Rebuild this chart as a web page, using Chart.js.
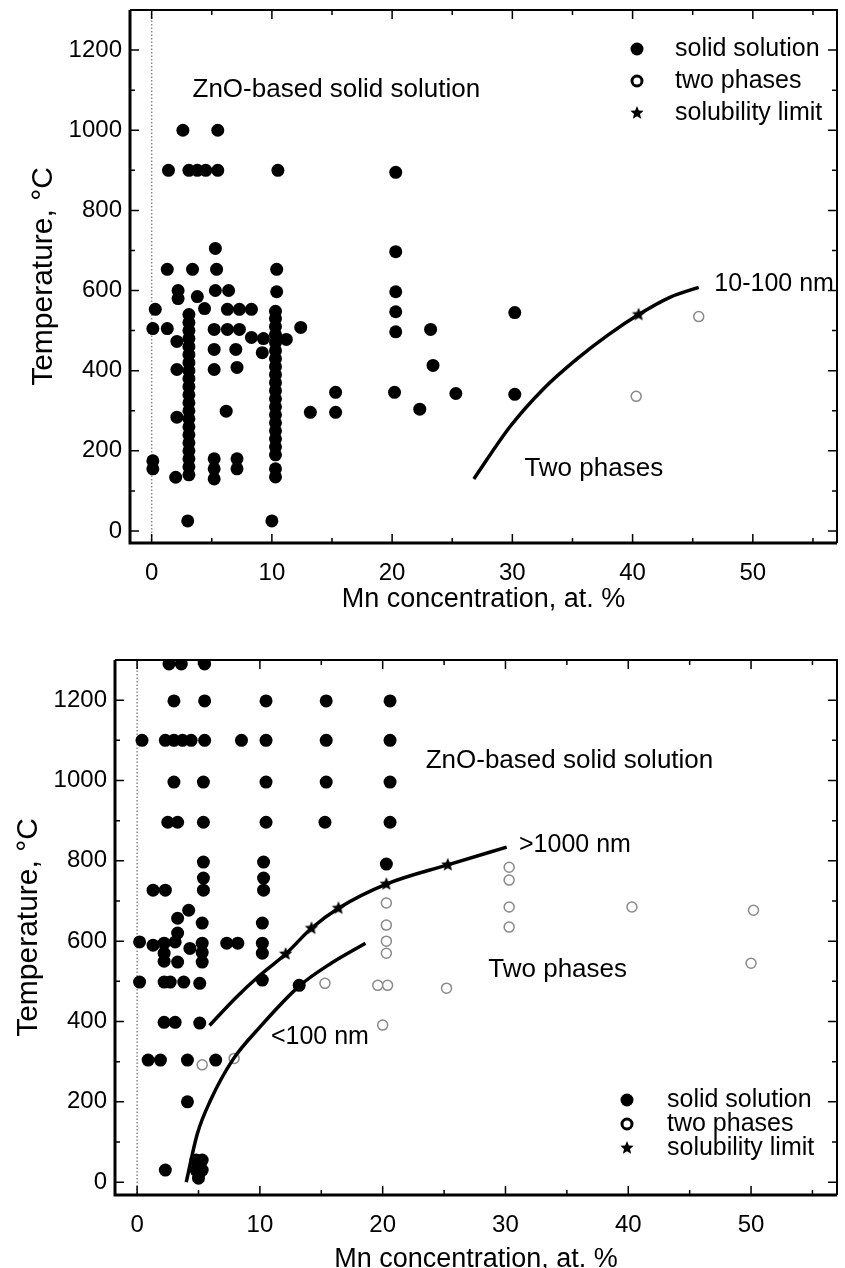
<!DOCTYPE html>
<html>
<head>
<meta charset="utf-8">
<script src="https://cdn.jsdelivr.net/npm/chart.js@4.4.1/dist/chart.umd.min.js"></script>
<style>
  html, body { margin: 0; padding: 0; background: #fff; width: 845px; height: 1268px; overflow: hidden; }
  canvas { position: absolute; left: 0; }
  #topChart { top: 0; }
  #bottomChart { top: 620px; }
</style>
</head>
<body>
<canvas id="topChart" width="845" height="616"></canvas>
<canvas id="bottomChart" width="845" height="656"></canvas>
<script>
// ---- data: [Mn at.%, temperature °C] ----
const xTickValues = [0, 10, 20, 30, 40, 50];
const yTickValues = [0, 200, 400, 600, 800, 1000, 1200];

// top panel (10-100 nm)
const topSolid = [
  [2.6, 1000], [5.5, 1000],
  [1.4, 900], [3.1, 900], [3.8, 900], [4.5, 900], [5.5, 900], [10.5, 900], [20.3, 895],
  [5.3, 705], [20.3, 697],
  [1.3, 653], [3.4, 653], [5.4, 653], [10.4, 653],
  [2.2, 600], [2.2, 580], [3.8, 585], [5.3, 600], [6.4, 600], [10.4, 597], [20.3, 597],
  [0.3, 553], [4.4, 555], [6.3, 553], [7.3, 553], [8.3, 553], [10.3, 548], [20.3, 547], [30.2, 545],
  [0.1, 505], [1.3, 505], [5.2, 503], [6.3, 503], [7.3, 503], [12.4, 508], [20.3, 497], [23.2, 503],
  [2.1, 473], [8.3, 483], [9.3, 480], [11.2, 478], [9.2, 445],
  [5.2, 453], [7.0, 453],
  [2.1, 403], [5.2, 403], [7.1, 408], [23.4, 413],
  [15.3, 346], [20.2, 346], [25.3, 343], [30.2, 341],
  [6.2, 299], [13.2, 296], [15.3, 296], [22.3, 304],
  [2.1, 284],
  [0.1, 175], [0.1, 155], [2.0, 134], [5.2, 180], [5.2, 155], [5.2, 130], [7.1, 180], [7.1, 155],
  [3.0, 25], [10.0, 25],
  // dense column near 3 at.%
  [3.1, 140], [3.1, 160], [3.1, 180], [3.1, 200], [3.1, 220], [3.1, 240], [3.1, 260],
  [3.1, 280], [3.1, 300], [3.1, 320], [3.1, 340], [3.1, 360], [3.1, 380], [3.1, 400],
  [3.1, 420], [3.1, 440], [3.1, 460], [3.1, 480], [3.1, 500], [3.1, 520], [3.1, 540],
  // dense column near 10 at.%
  [10.3, 135], [10.3, 155], [10.3, 190], [10.3, 210], [10.3, 230], [10.3, 250], [10.3, 270],
  [10.3, 290], [10.3, 310], [10.3, 330], [10.3, 350], [10.3, 370], [10.3, 390], [10.3, 410],
  [10.3, 430], [10.3, 450], [10.3, 470], [10.3, 490], [10.3, 510], [10.3, 530]
];
const topTwoPhase = [[40.3, 336], [45.5, 535]];
const topLimit = [[40.5, 540]];
const topCurve = [[26.8, 130], [29.8, 260], [32.6, 355], [35.4, 430], [38.0, 490], [40.5, 540], [43.1, 583], [45.5, 608]];

// bottom panel (<100 nm and >1000 nm)
const bottomSolid = [
  [2.6, 1290], [3.6, 1290], [5.5, 1290],
  [3.0, 1198], [5.5, 1198], [10.5, 1198], [15.4, 1198], [20.6, 1198],
  [0.4, 1100], [2.3, 1100], [3.0, 1100], [3.7, 1100], [4.4, 1100], [5.5, 1100], [8.5, 1100], [10.5, 1100], [15.4, 1100], [20.6, 1100],
  [3.0, 996], [5.4, 996], [10.5, 996], [15.4, 996], [20.6, 996],
  [2.5, 896], [3.3, 896], [5.4, 896], [10.5, 896], [15.3, 896], [20.6, 896],
  [5.4, 797], [10.3, 797], [20.3, 792],
  [5.4, 757], [10.3, 757],
  [1.3, 727], [2.3, 727], [5.4, 727], [10.3, 727],
  [4.2, 677], [3.3, 657], [5.3, 645], [10.2, 645], [3.3, 620],
  [0.2, 598], [1.3, 590], [2.2, 595], [3.1, 598], [4.3, 582], [5.3, 595], [7.3, 595], [8.2, 595], [10.2, 595],
  [2.2, 570], [5.3, 572], [10.2, 570],
  [2.2, 550], [3.3, 548], [5.3, 548],
  [0.2, 498], [2.2, 498], [2.7, 498], [3.8, 498], [5.1, 495], [10.2, 503], [13.2, 490],
  [2.2, 398], [3.1, 398], [5.1, 396],
  [0.9, 304], [1.9, 304], [4.1, 304], [6.4, 304],
  [4.1, 200],
  [2.3, 30], [4.8, 55], [5.3, 55], [4.8, 30], [5.3, 30], [5.0, 10]
];
const bottomTwoPhase = [
  [5.3, 292], [7.9, 308], [15.3, 495], [19.6, 490], [20.4, 490], [20.0, 391], [25.2, 483],
  [20.3, 695], [20.3, 640], [20.3, 600], [20.3, 570],
  [30.3, 784], [30.3, 752], [30.3, 685], [30.3, 635],
  [40.3, 685], [50.2, 677], [50.0, 545]
];
const bottomLimit = [[12.1, 568], [14.2, 632], [16.4, 682], [20.3, 742], [25.3, 790]];
const upperCurve = [[5.9, 390], [8.0, 458], [10.0, 515], [12.1, 568], [14.2, 632], [16.4, 682], [20.3, 742], [25.3, 790], [30.1, 834]];
const lowerCurve = [[4.0, 0], [4.9, 120], [6.0, 205], [7.8, 305], [10.0, 386], [13.2, 488], [15.8, 545], [18.6, 595]];

const FONT = '"Liberation Sans", Arial, Helvetica, sans-serif';
const pts = arr => arr.map(([x, y]) => ({ x, y }));

// filled five-point star used as point style
function makeStar(r) {
  const c = document.createElement('canvas');
  c.width = c.height = r * 2 + 2;
  const g = c.getContext('2d');
  g.fillStyle = '#000';
  g.beginPath();
  for (let i = 0; i < 10; i++) {
    const rad = i % 2 ? r * 0.45 : r;
    const a = -Math.PI / 2 + i * Math.PI / 5;
    g.lineTo(r + 1 + rad * Math.cos(a), r + 1 + rad * Math.sin(a));
  }
  g.closePath();
  g.fill();
  return c;
}
const starImg = makeStar(7);

function drawMarker(ctx, kind, x, y) {
  ctx.save();
  if (kind === 'solid') {
    ctx.fillStyle = '#000';
    ctx.beginPath(); ctx.arc(x, y, 6.5, 0, Math.PI * 2); ctx.fill();
  } else if (kind === 'open') {
    ctx.strokeStyle = '#000'; ctx.lineWidth = 3;
    ctx.beginPath(); ctx.arc(x, y, 5, 0, Math.PI * 2); ctx.stroke();
  } else {
    ctx.drawImage(starImg, x - starImg.width / 2, y - starImg.height / 2);
  }
  ctx.restore();
}

const decor = {
  id: 'decor',
  beforeDatasetsDraw(chart) {
    const { ctx, chartArea: a, scales: { x } } = chart;
    const x0 = x.getPixelForValue(0);
    ctx.save();
    ctx.strokeStyle = '#8a8a8a';
    ctx.lineWidth = 1.5;
    ctx.setLineDash([1.5, 2]);
    ctx.beginPath(); ctx.moveTo(x0, a.top); ctx.lineTo(x0, a.bottom); ctx.stroke();
    ctx.restore();
  },
  afterDatasetsDraw(chart, args, opts) {
    const { ctx, chartArea: a, scales: { x, y } } = chart;
    ctx.save();
    // frame
    ctx.strokeStyle = '#000';
    ctx.lineWidth = 2;
    ctx.beginPath();
    ctx.moveTo(a.left, a.top); ctx.lineTo(a.right, a.top); ctx.lineTo(a.right, a.bottom);
    ctx.stroke();
    ctx.lineWidth = 3;
    ctx.beginPath();
    ctx.moveTo(a.left, a.top); ctx.lineTo(a.left, a.bottom); ctx.lineTo(a.right, a.bottom);
    ctx.stroke();
    // inward ticks on all sides
    ctx.lineWidth = 1.5;
    ctx.beginPath();
    [0, 5, 10, 15, 20, 25, 30, 35, 40, 45, 50, 55].forEach(v => {
      const px = x.getPixelForValue(v);
      const len = v % 10 === 0 ? 9 : 5;
      ctx.moveTo(px, a.bottom); ctx.lineTo(px, a.bottom - len);
      ctx.moveTo(px, a.top); ctx.lineTo(px, a.top + len);
    });
    [0, 100, 200, 300, 400, 500, 600, 700, 800, 900, 1000, 1100, 1200].forEach(v => {
      const py = y.getPixelForValue(v);
      const len = v % 200 === 0 ? 9 : 5;
      ctx.moveTo(a.left, py); ctx.lineTo(a.left + len, py);
      ctx.moveTo(a.right, py); ctx.lineTo(a.right - len, py);
    });
    ctx.stroke();
    // in-plot labels
    ctx.fillStyle = '#000';
    ctx.textBaseline = 'middle';
    opts.notes.forEach(n => {
      ctx.font = n.size + 'px ' + FONT;
      ctx.textAlign = 'left';
      ctx.fillText(n.text, x.getPixelForValue(n.x), y.getPixelForValue(n.y));
    });
    // legend
    const L = opts.legend;
    ctx.font = '25px ' + FONT;
    ['solid', 'open', 'star'].forEach((k, i) => {
      drawMarker(ctx, k, L.mx, L.rows[i]);
      ctx.fillText(['solid solution', 'two phases', 'solubility limit'][i], L.tx, L.rows[i]);
    });
    ctx.restore();
  }
};

function buildChart(id, cfg) {
  const datasets = [
    ...cfg.curves.map(c => ({
      data: pts(c), showLine: true, pointRadius: 0, borderColor: '#000', borderWidth: 3.5,
      tension: 0.4, cubicInterpolationMode: 'monotone', fill: false, order: 0
    })),
    { data: pts(cfg.limit), pointStyle: starImg, pointRadius: 7, order: 1 },
    { data: pts(cfg.solid), pointStyle: 'circle', pointRadius: 6.5, backgroundColor: '#000', borderColor: '#000', borderWidth: 0, order: 2 },
    { data: pts(cfg.open), pointStyle: 'circle', pointRadius: 5, backgroundColor: '#fff', borderColor: '#8a8a8a', borderWidth: 1.5, order: 3 }
  ];
  const noPad = s => { s.paddingTop = 0; s.paddingBottom = 0; s.paddingLeft = 0; s.paddingRight = 0; };
  return new Chart(document.getElementById(id), {
    type: 'scatter',
    data: { datasets },
    plugins: [decor],
    options: {
      responsive: false,
      animation: false,
      devicePixelRatio: 1,
      layout: { padding: cfg.padding },
      plugins: {
        legend: { display: false },
        tooltip: { enabled: false },
        decor: { notes: cfg.notes, legend: cfg.legend }
      },
      scales: {
        x: {
          type: 'linear', min: -1.8, max: 57,
          afterBuildTicks: s => { s.ticks = xTickValues.map(v => ({ value: v })); },
          afterFit: s => { s.height = cfg.xHeight; noPad(s); },
          grid: { display: false, drawTicks: false },
          border: { display: false },
          ticks: { padding: 16, color: '#000', font: { family: FONT, size: 24 }, callback: v => String(v) },
          title: { display: true, text: 'Mn concentration, at. %', color: '#000', padding: 0, font: { family: FONT, size: 27 } }
        },
        y: {
          type: 'linear', min: cfg.yMin, max: 1300,
          afterBuildTicks: s => { s.ticks = yTickValues.map(v => ({ value: v })); },
          afterFit: s => { s.width = 104; noPad(s); },
          grid: { display: false, drawTicks: false },
          border: { display: false },
          ticks: { padding: 8, color: '#000', font: { family: FONT, size: 24 }, callback: v => String(v) },
          title: { display: true, text: 'Temperature, °C', color: '#000', padding: 0, font: { family: FONT, size: 30 } }
        }
      }
    }
  });
}

buildChart('topChart', {
  solid: topSolid, open: topTwoPhase, limit: topLimit, curves: [topCurve],
  padding: { left: 26, top: 10, right: -1, bottom: 0 }, xHeight: 73, yMin: -30,
  notes: [
    { text: 'ZnO-based solid solution', x: 3.4, y: 1100, size: 26 },
    { text: 'Two phases', x: 31.0, y: 154, size: 26 },
    { text: '10-100 nm', x: 46.8, y: 617, size: 25 }
  ],
  legend: { mx: 637, tx: 675, rows: [49, 81, 113] }
});

buildChart('bottomChart', {
  solid: bottomSolid, open: bottomTwoPhase, limit: bottomLimit, curves: [upperCurve, lowerCurve],
  padding: { left: 11, top: 40, right: -1, bottom: 0 }, xHeight: 81, yMin: -32,
  notes: [
    { text: 'ZnO-based solid solution', x: 23.5, y: 1050, size: 26 },
    { text: 'Two phases', x: 28.6, y: 528, size: 26 },
    { text: '>1000 nm', x: 31.1, y: 839, size: 25 },
    { text: '<100 nm', x: 10.9, y: 361, size: 25 }
  ],
  legend: { mx: 627, tx: 667, rows: [480, 504, 528] }
});
</script>
</body>
</html>
